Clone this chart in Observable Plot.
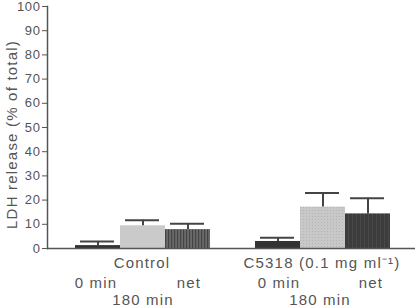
<!DOCTYPE html>
<html><head><meta charset="utf-8">
<script src="https://cdn.jsdelivr.net/npm/d3@7"></script>
<script src="https://cdn.jsdelivr.net/npm/@observablehq/plot@0.6"></script>
<style>
body{margin:0;background:#fff;}
svg{display:block;}
</style>
</head><body>
<div id="chart"></div>
<script>
const groups = ["Control", "C5318 (0.1 mg ml⁻¹)"];
const conditions = ["0 min", "180 min", "net"];
const controlValues = [1.2, 9.4, 7.8];
const controlErrors = [1.7, 2.3, 2.4];
const c5318Values = [2.9, 17.1, 14.3];
const c5318Errors = [1.5, 5.8, 6.5];
const yTicks = [0, 10, 20, 30, 40, 50, 60, 70, 80, 90, 100];

const slots = ["Control|0 min", "Control|180 min", "Control|net", "gap",
  "C5318|0 min", "C5318|180 min", "C5318|net"];
const fills = {
  "Control|0 min": "#333333", "Control|180 min": "#cacaca", "Control|net": "url(#stripesA)",
  "C5318|0 min": "#333333", "C5318|180 min": "url(#stipple)", "C5318|net": "url(#stripesB)"
};
const rows = [];
conditions.forEach((c, i) => rows.push({slot: "Control|" + c, value: controlValues[i], err: controlErrors[i]}));
conditions.forEach((c, i) => rows.push({slot: "C5318|" + c, value: c5318Values[i], err: c5318Errors[i]}));

const textColor = "#555";
const fs = 15;
const labels = [
  {slot: "Control|180 min", text: groups[0], dx: -1, dy: 15},
  {slot: "C5318|180 min", text: groups[1], dx: -1, dy: 15},
  {slot: "Control|0 min", text: conditions[0], dx: -2, dy: 35},
  {slot: "Control|net", text: conditions[2], dx: 1, dy: 35},
  {slot: "C5318|0 min", text: conditions[0], dx: 1, dy: 35},
  {slot: "C5318|net", text: conditions[2], dx: 3, dy: 35},
  {slot: "Control|180 min", text: conditions[1], dx: 0, dy: 52},
  {slot: "C5318|180 min", text: conditions[1], dx: -3, dy: 52}
];

const chart = Plot.plot({
  width: 417,
  height: 307,
  marginLeft: 47,
  marginRight: 2,
  marginTop: 6,
  marginBottom: 59,
  style: {fontFamily: "'Liberation Sans', Arial, sans-serif", color: textColor, background: "#fff"},
  x: {domain: slots, range: [72, 393], padding: 0, axis: null},
  y: {domain: [0, 100], ticks: yTicks, label: null},
  marks: [
    Plot.barY(rows, {x: "slot", y: "value", fill: d => fills[d.slot]}),
    Plot.ruleX(rows, {x: "slot", y1: "value", y2: d => d.value + d.err, stroke: "#444", strokeWidth: 2}),
    Plot.tickY(rows, {x: "slot", y: d => d.value + d.err, stroke: "#444", strokeWidth: 2, insetLeft: 5, insetRight: 6}),
    Plot.ruleY([0], {stroke: "#555", strokeWidth: 1.5}),
    Plot.frame({anchor: "left", stroke: "#555", strokeWidth: 1.5}),
    Plot.axisY({ticks: yTicks, tickSize: 5, tickPadding: 2, fontSize: 13, stroke: "#555", fill: textColor, label: null}),
    Plot.text(["LDH release (% of total)"], {frameAnchor: "left", textAnchor: "middle", dx: -35, dy: 7, rotate: -90, fontSize: 15, fill: textColor}),
    ...labels.map(l => Plot.text([l], {x: "slot", y: 0, text: "text", dx: l.dx, dy: l.dy, fontSize: fs, fill: textColor}))
  ]
});

const svg = d3.select(chart);
const defs = svg.insert("defs", ":first-child");
const pa = defs.append("pattern").attr("id", "stripesA").attr("patternUnits", "userSpaceOnUse").attr("width", 3).attr("height", 10);
pa.append("rect").attr("width", 3).attr("height", 10).attr("fill", "#6a6a6a");
pa.append("rect").attr("width", 1.2).attr("height", 10).attr("fill", "#444");
const pb = defs.append("pattern").attr("id", "stripesB").attr("patternUnits", "userSpaceOnUse").attr("width", 4).attr("height", 10);
pb.append("rect").attr("width", 4).attr("height", 10).attr("fill", "#3c3c3c");
pb.append("rect").attr("width", 1).attr("height", 10).attr("fill", "#4a4a4a");
const ps = defs.append("pattern").attr("id", "stipple").attr("patternUnits", "userSpaceOnUse").attr("width", 3).attr("height", 3);
ps.append("rect").attr("width", 3).attr("height", 3).attr("fill", "#c8c8c8");
ps.append("rect").attr("width", 1).attr("height", 1).attr("fill", "#b4b4b4");

svg.selectAll("g[aria-label='text'] text").attr("letter-spacing", "1.2px");
svg.selectAll("g[aria-label='y-axis tick label'] text").attr("letter-spacing", "0.6px");
document.getElementById("chart").appendChild(chart);
</script>
</body></html>
